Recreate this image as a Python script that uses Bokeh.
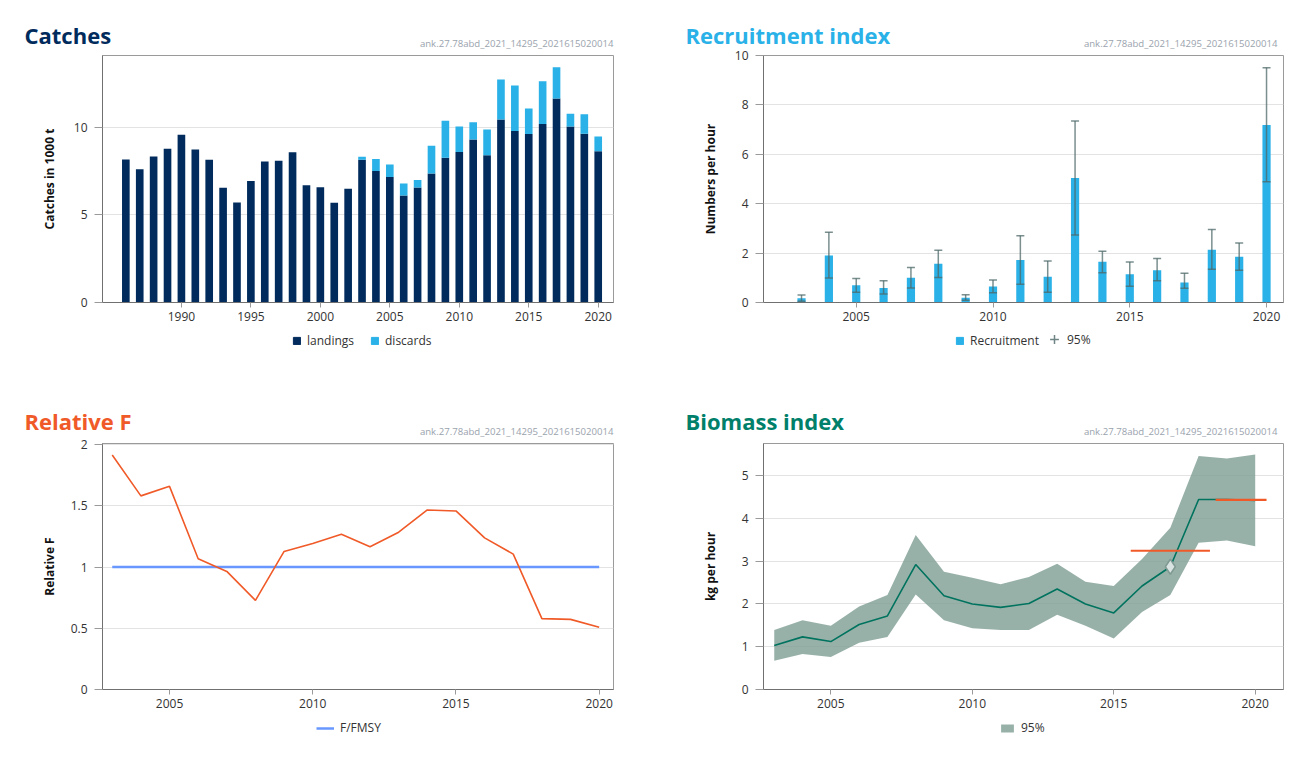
from bokeh.plotting import figure
from bokeh.models import (Range1d, ColumnDataSource, Label, Legend, LegendItem,
                          Whisker, TeeHead, FixedTicker, NumeralTickFormatter)
from bokeh.layouts import column, row
from bokeh.embed import file_html
from bokeh.resources import INLINE

FONT = "Open Sans"
WATERMARK = "ank.27.78abd_2021_14295_2021615020014"

# ---------------- data ----------------
catch_years = list(range(1986, 2021))
landings = [8.17, 7.60, 8.34, 8.78, 9.58, 8.74, 8.15, 6.55, 5.71, 6.93, 8.05, 8.09,
            8.57, 6.70, 6.58, 5.69, 6.49, 8.15, 7.50, 7.16, 6.11, 6.57, 7.37, 8.26,
            8.59, 9.31, 8.40, 10.44, 9.79, 9.62, 10.19, 11.64, 10.04, 9.64, 8.64]
discards = [0, 0, 0, 0, 0, 0, 0, 0, 0, 0, 0, 0, 0, 0, 0, 0, 0,
            0.17, 0.69, 0.72, 0.68, 0.43, 1.58, 2.12, 1.45, 0.98, 1.47, 2.29,
            2.60, 1.45, 2.44, 1.79, 0.74, 1.10, 0.84]

rec_years = list(range(2003, 2021))
recruitment = [0.17, 1.90, 0.70, 0.59, 1.00, 1.57, 0.19, 0.65, 1.72, 1.04, 5.04,
               1.65, 1.14, 1.31, 0.81, 2.14, 1.85, 7.19]
rec_low = [0.05, 0.99, 0.41, 0.34, 0.59, 1.01, 0.09, 0.39, 0.74, 0.42, 2.73,
           1.20, 0.66, 0.88, 0.58, 1.35, 1.31, 4.89]
rec_high = [0.30, 2.84, 0.97, 0.88, 1.42, 2.12, 0.31, 0.91, 2.70, 1.68, 7.35,
            2.07, 1.64, 1.78, 1.18, 2.96, 2.41, 9.50]

f_years = list(range(2003, 2021))
rel_f = [1.916, 1.582, 1.660, 1.068, 0.965, 0.728, 1.128, 1.193, 1.269, 1.166,
         1.285, 1.467, 1.459, 1.239, 1.106, 0.579, 0.573, 0.508]
f_fmsy = [1.0, 1.0, 1.0, 1.0, 1.0, 1.0, 1.0, 1.0, 1.0, 1.0, 1.0, 1.0, 1.0, 1.0,
          1.0, 1.0, 1.0, 1.0]

bio_years = list(range(2003, 2021))
biomass = [1.03, 1.23, 1.12, 1.52, 1.72, 2.92, 2.19, 2.00, 1.92, 2.01, 2.35, 2.00,
           1.79, 2.42, 2.87, 4.44, 4.44, 4.42]
bio_low = [0.67, 0.83, 0.76, 1.09, 1.23, 2.22, 1.62, 1.43, 1.39, 1.39, 1.75, 1.49,
           1.19, 1.81, 2.21, 3.43, 3.48, 3.35]
bio_high = [1.39, 1.62, 1.49, 1.94, 2.21, 3.61, 2.75, 2.61, 2.46, 2.63, 2.94, 2.52,
            2.42, 3.05, 3.78, 5.46, 5.40, 5.49]

catch_ticks = [1990, 1995, 2000, 2005, 2010, 2015, 2020]
year_ticks = [2005, 2010, 2015, 2020]

NAVY = "#002b5c"
SKY = "#29b1e8"
ORANGE = "#f05a28"
TEAL = "#00806a"
FMSY_BLUE = "#6898ff"
BAND = "#7e9e92"
WH = "#4f6a69"


def blank_fig(width, height):
    # pixel-sized helper canvas (title strip / legend strip); data ranges are in px,
    # so any year-based renderer drawn here stays out of view and only feeds the legend
    p = figure(width=width, height=height, x_range=Range1d(0, width),
               y_range=Range1d(0, height), x_axis_type=None, y_axis_type=None,
               output_backend="svg", toolbar_location=None,
               min_border_left=0, min_border_right=0, min_border_top=0,
               min_border_bottom=0, frame_align=False)
    p.outline_line_color = None
    return p


def header(width, height, title, color, title_x, title_y, wm_x, wm_y):
    h = blank_fig(width, height)
    h.add_layout(Label(x=title_x, y=title_y, x_units="screen", y_units="screen",
                       text=title, text_font=FONT, text_font_style="bold",
                       text_font_size="22px", text_color=color,
                       text_baseline="middle", text_align="left"))
    h.add_layout(Label(x=wm_x, y=wm_y, x_units="screen", y_units="screen",
                       text=WATERMARK, text_font=FONT, text_font_size="9.6px",
                       text_color="#9aa3ad", text_baseline="middle",
                       text_align="right"))
    return h


def make_legend(items, x, y, glyph_w=9, glyph_h=9, standoff=6):
    return Legend(items=items, location=(x, y), orientation="horizontal",
                  border_line_color=None, background_fill_alpha=0, padding=0, margin=0,
                  spacing=16, label_standoff=standoff, glyph_width=glyph_w,
                  glyph_height=glyph_h, label_text_font=FONT,
                  label_text_font_size="12px", label_text_color="#333333")


def main_fig(width, height, left, right, xr, yr, yticks, ylabel, ylabel_standoff,
             xticks):
    p = figure(width=width, height=height, x_range=Range1d(*xr), y_range=Range1d(*yr),
               output_backend="svg", toolbar_location=None,
               min_border_left=left, min_border_right=right,
               min_border_top=6, min_border_bottom=26)
    p.outline_line_color = "#9a9a9a"
    p.outline_line_width = 1
    p.xgrid.visible = False
    p.ygrid.grid_line_color = "#e3e3e3"
    p.ygrid.grid_line_width = 1
    p.xaxis.ticker = FixedTicker(ticks=xticks)
    p.yaxis.ticker = FixedTicker(ticks=yticks)
    for ax in (p.xaxis[0], p.yaxis[0]):
        ax.axis_line_color = "#707070"
        ax.major_tick_line_color = "#9a9a9a"
        ax.minor_tick_line_color = None
        ax.major_tick_in = 0
        ax.major_label_text_font = FONT
        ax.major_label_text_font_size = "12px"
        ax.major_label_text_color = "#333333"
    p.yaxis.major_tick_out = 8
    p.yaxis.major_label_standoff = 7
    p.xaxis.major_tick_out = 5
    p.xaxis.major_label_standoff = 4
    p.yaxis.axis_label = ylabel
    p.yaxis.axis_label_text_font = FONT
    p.yaxis.axis_label_text_font_style = "bold"
    p.yaxis.axis_label_text_font_size = "12px"
    p.yaxis.axis_label_text_color = "#111111"
    p.yaxis.axis_label_standoff = ylabel_standoff
    return p


LW, RW = 660, 635

# ---------------- Catches ----------------
src1 = ColumnDataSource(dict(year=catch_years, landings=landings, discards=discards))
h1 = header(LW, 49, "Catches", NAVY, 24, 15, 613, 6)
p1 = main_fig(LW, 279, 102, 47, (1984.32, 2021.1), (0, 14.1), [0, 5, 10],
              "Catches in 1000 t", 13, catch_ticks)
p1.vbar_stack(["landings", "discards"], x="year", width=0.55, color=[NAVY, SKY],
              line_color=None, source=src1)
l1 = blank_fig(LW, 57)
rl_land = l1.vbar(x="year", top="landings", width=0.5, color=NAVY, source=src1)
rl_disc = l1.vbar(x="year", top="discards", width=0.5, color=SKY, source=src1)
l1.add_layout(make_legend([LegendItem(label="landings", renderers=[rl_land]),
                           LegendItem(label="discards", renderers=[rl_disc])], 292, 36))

# ---------------- Recruitment ----------------
src2 = ColumnDataSource(dict(year=rec_years, rec=recruitment, lo=rec_low, hi=rec_high))
h2 = header(RW, 49, "Recruitment index", SKY, 25, 15, 617, 6)
p2 = main_fig(RW, 279, 103, 12, (2001.61, 2020.62), (0, 10), [0, 2, 4, 6, 8, 10],
              "Numbers per hour", 13, year_ticks)
p2.vbar(x="year", top="rec", width=0.3, color=SKY, line_color=None, source=src2)
wh = Whisker(source=src2, base="year", lower="lo", upper="hi",
             line_color=WH, line_alpha=0.75, line_width=1.5,
             upper_head=TeeHead(size=8, line_color=WH, line_alpha=0.75, line_width=1.5),
             lower_head=TeeHead(size=8, line_color=WH, line_alpha=0.75, line_width=1.5))
wh.level = "overlay"
p2.add_layout(wh)
l2 = blank_fig(RW, 57)
rl_rec = l2.vbar(x="year", top="rec", width=0.5, color=SKY, source=src2)
rl_ci = l2.scatter(x="year", y="hi", marker="cross", size=10, line_color="#6f8585",
                   line_width=1.5, source=src2)
l2.add_layout(make_legend([LegendItem(label="Recruitment", renderers=[rl_rec])], 295, 36))
l2.add_layout(make_legend([LegendItem(label="95%", renderers=[rl_ci])], 383, 35,
                          glyph_w=22, glyph_h=22, standoff=2))

# ---------------- Relative F ----------------
src3 = ColumnDataSource(dict(year=f_years, f=rel_f, fmsy=f_fmsy))
h3 = header(LW, 52, "Relative F", ORANGE, 24, 17, 613, 6)
p3 = main_fig(LW, 278, 102, 47, (2002.66, 2020.5), (0, 2.01), [0, 0.5, 1, 1.5, 2],
              "Relative F", 10, year_ticks)
p3.yaxis.formatter = NumeralTickFormatter(format="0.[0]")
p3.line(x="year", y="fmsy", line_color=FMSY_BLUE, line_width=2.5, source=src3)
p3.line(x="year", y="f", line_color=ORANGE, line_width=1.6, source=src3)
l3 = blank_fig(LW, 55)
rl_fmsy = l3.line(x="year", y="fmsy", line_color=FMSY_BLUE, line_width=2.5, source=src3)
l3.add_layout(make_legend([LegendItem(label="F/FMSY", renderers=[rl_fmsy])], 316, 34,
                          glyph_w=18, glyph_h=10))

# ---------------- Biomass ----------------
src4 = ColumnDataSource(dict(year=bio_years, b=biomass, lo=bio_low, hi=bio_high))
h4 = header(RW, 52, "Biomass index", TEAL, 25, 17, 617, 6)
p4 = main_fig(RW, 278, 103, 12, (2002.62, 2021.0), (0, 5.75), [0, 1, 2, 3, 4, 5],
              "kg per hour", 20, year_ticks)
p4.varea(x="year", y1="lo", y2="hi", fill_color=BAND, fill_alpha=0.8, source=src4)
p4.line(x="year", y="b", line_color="#00735f", line_width=1.6, source=src4)
# 2-over-3 rule averages (last two years vs the three before)
n = len(bio_years)
avg3 = sum(biomass[n - 5:n - 2]) / 3.0
avg2 = sum(biomass[n - 2:]) / 2.0
src4b = ColumnDataSource(dict(x0=[bio_years[n - 5] - 0.4, bio_years[n - 2] - 0.4],
                              x1=[bio_years[n - 3] + 0.4, bio_years[n - 1] + 0.4],
                              y=[avg3, avg2]))
p4.segment(x0="x0", y0="y", x1="x1", y1="y", line_color=ORANGE, line_width=2.2,
           source=src4b)
p4.scatter(x=[bio_years[n - 4]], y=[biomass[n - 4]], marker="diamond", size=15,
           fill_color="#d9e3e1", line_color="#7f9a92", line_width=1.5)
l4 = blank_fig(RW, 55)
rl_band = l4.varea(x="year", y1="lo", y2="hi", fill_color=BAND, fill_alpha=0.8,
                   source=src4)
l4.add_layout(make_legend([LegendItem(label="95%", renderers=[rl_band])], 339, 34,
                          glyph_w=16, glyph_h=10))

page = column(row(column(h1, p1, l1), column(h2, p2, l2)),
              row(column(h3, p3, l3), column(h4, p4, l4)))

open("out.html", "w").write(file_html(page, INLINE))
